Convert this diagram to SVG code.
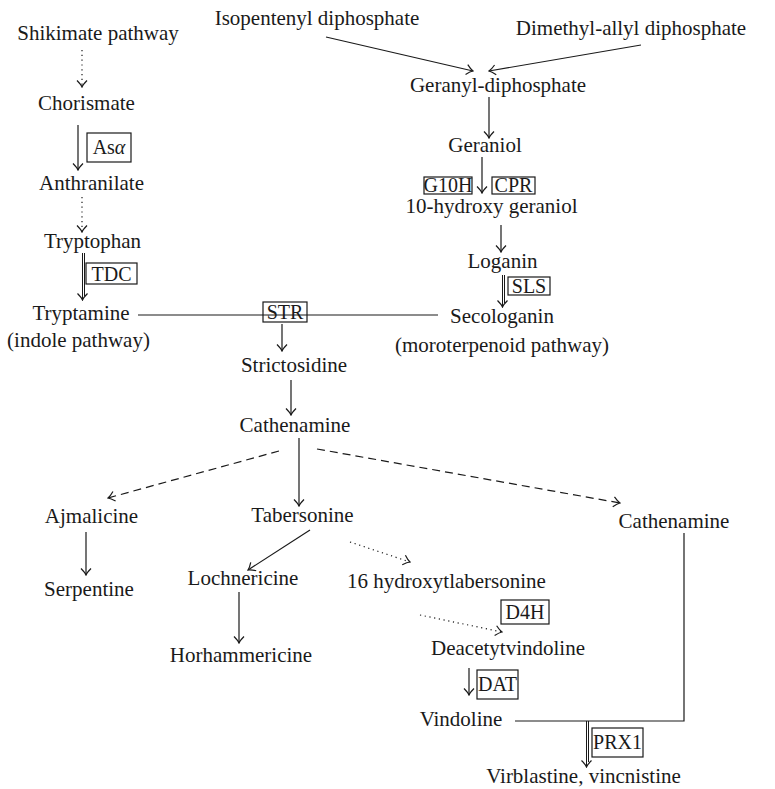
<svg xmlns="http://www.w3.org/2000/svg" width="775" height="789" viewBox="0 0 775 789">
<style>
text{font-family:"Liberation Serif","Times New Roman",serif;font-size:21px;fill:#1a1a1a;text-anchor:middle}
.box+text,.bt{font-size:20px}
.ln{stroke:#1a1a1a;stroke-width:1.2;fill:none}
.thin{stroke:#1a1a1a;stroke-width:1;fill:none}
.ar{marker-end:url(#ah)}
.dot{stroke-dasharray:1.2 3.6}
.dash{stroke-dasharray:8 5}
.box{fill:none;stroke:#1a1a1a;stroke-width:1.2}
</style>
<defs>
<marker id="ah" viewBox="-8 -6 9 12" refX="0" refY="0" markerWidth="9" markerHeight="12" orient="auto" markerUnits="userSpaceOnUse">
<path d="M-6.5,-5 Q-2.5,-1 0,0 Q-2.5,1 -6.5,5" fill="none" stroke="#1a1a1a" stroke-width="1.2" stroke-dasharray="none"/>
</marker>
</defs>
<rect width="775" height="789" fill="#fff"/>
<g id="connectors">
<line class="ln ar dot" x1="82" y1="50" x2="82" y2="87"/>
<line class="ln ar" x1="78" y1="125" x2="78" y2="170"/>
<line class="ln ar dot" x1="82" y1="197" x2="82" y2="232"/>
<line class="thin ar" x1="82.5" y1="253" x2="82.5" y2="300"/>
<line class="thin" x1="84.5" y1="253" x2="84.5" y2="296"/>
<line class="ln" x1="138" y1="315" x2="438" y2="315"/>
<line class="ln ar" x1="282" y1="324" x2="282" y2="351"/>
<line class="ln ar" x1="326" y1="37" x2="473" y2="71"/>
<line class="ln ar" x1="641" y1="45" x2="489" y2="71"/>
<line class="ln ar" x1="489" y1="97" x2="489" y2="138"/>
<line class="ln ar" x1="482" y1="157" x2="482" y2="193"/>
<line class="ln ar" x1="501" y1="225" x2="501" y2="252"/>
<line class="thin ar" x1="502.5" y1="275" x2="502.5" y2="307"/>
<line class="thin" x1="504.5" y1="275" x2="504.5" y2="303"/>
<line class="ln ar" x1="291" y1="380" x2="291" y2="415"/>
<line class="ln ar" x1="299" y1="438" x2="299" y2="506"/>
<line class="ln ar dash" x1="279" y1="451" x2="108" y2="498"/>
<line class="ln ar dash" x1="317" y1="449" x2="620" y2="503"/>
<line class="ln ar" x1="86" y1="532" x2="86" y2="575"/>
<line class="ln ar" x1="310" y1="530" x2="248" y2="570"/>
<line class="ln ar" x1="239" y1="592" x2="239" y2="643"/>
<line class="ln ar dot" x1="350" y1="542" x2="410" y2="562"/>
<polyline class="ln" points="684,533 684,721 515,721"/>
<line class="ln ar dot" x1="420" y1="615" x2="502" y2="632"/>
<line class="ln ar" x1="469" y1="668" x2="469" y2="695"/>
<line class="thin ar" x1="586.5" y1="721" x2="586.5" y2="767"/>
<line class="thin" x1="588.5" y1="721" x2="588.5" y2="762"/>
</g>
<g id="shikimate"><text x="98" y="40">Shikimate pathway</text></g>
<g id="chorismate"><text x="86.5" y="110">Chorismate</text></g>
<g id="asa"><rect class="box" x="87" y="133" width="44" height="29"/><text class="bt" x="109" y="154">As<tspan font-style="italic">α</tspan></text></g>
<g id="anthranilate"><text x="91.5" y="190">Anthranilate</text></g>
<g id="tryptophan"><text x="92.5" y="248">Tryptophan</text></g>
<g id="tdc"><rect class="box" x="86" y="263" width="51" height="21"/><text class="bt" x="111.5" y="281">TDC</text></g>
<g id="tryptamine"><text x="81" y="320">Tryptamine</text><text x="78.5" y="347">(indole pathway)</text></g>
<g id="str"><rect class="box" x="263" y="302" width="44" height="20"/><text class="bt" x="285" y="319">STR</text></g>
<g id="strictosidine"><text x="294" y="372">Strictosidine</text></g>
<g id="isopentenyl"><text x="317" y="25">Isopentenyl diphosphate</text></g>
<g id="dimethylallyl"><text x="631" y="35">Dimethyl-allyl diphosphate</text></g>
<g id="geranyl"><text x="498" y="92">Geranyl-diphosphate</text></g>
<g id="geraniol"><text x="485" y="152">Geraniol</text></g>
<g id="g10h"><rect class="box" x="424" y="177" width="48" height="17"/><text class="bt" x="448" y="192">G10H</text></g>
<g id="cpr"><rect class="box" x="492" y="177" width="43" height="17"/><text class="bt" x="513.5" y="192">CPR</text></g>
<g id="hydroxygeraniol"><text x="491.5" y="213">10-hydroxy geraniol</text></g>
<g id="loganin"><text x="502.5" y="268">Loganin</text></g>
<g id="sls"><rect class="box" x="508" y="277" width="42" height="18"/><text class="bt" x="529" y="293">SLS</text></g>
<g id="secologanin"><text x="502" y="323">Secologanin</text><text x="502" y="352">(moroterpenoid pathway)</text></g>
<g id="cathenamine1"><text x="295" y="432">Cathenamine</text></g>
<g id="tabersonine"><text x="302.5" y="522">Tabersonine</text></g>
<g id="ajmalicine"><text x="91.5" y="523">Ajmalicine</text></g>
<g id="serpentine"><text x="89" y="596">Serpentine</text></g>
<g id="lochnericine"><text x="243" y="585">Lochnericine</text></g>
<g id="horhammericine"><text x="241" y="662">Horhammericine</text></g>
<g id="hydroxytabersonine"><text x="446.5" y="588">16 hydroxytlabersonine</text></g>
<g id="cathenamine2"><text x="674" y="528">Cathenamine</text></g>
<g id="d4h"><rect class="box" x="501" y="600" width="48" height="24"/><text class="bt" x="525" y="619">D4H</text></g>
<g id="deacetylvindoline"><text x="508" y="655">Deacetytvindoline</text></g>
<g id="dat"><rect class="box" x="477" y="670" width="41" height="29"/><text class="bt" x="497.5" y="691">DAT</text></g>
<g id="vindoline"><text x="461" y="726">Vindoline</text></g>
<g id="prx1"><rect class="box" x="592" y="728" width="51" height="29"/><text class="bt" x="617.5" y="749">PRX1</text></g>
<g id="vinblastine"><text x="583.5" y="783">Virblastine, vincnistine</text></g>
</svg>
